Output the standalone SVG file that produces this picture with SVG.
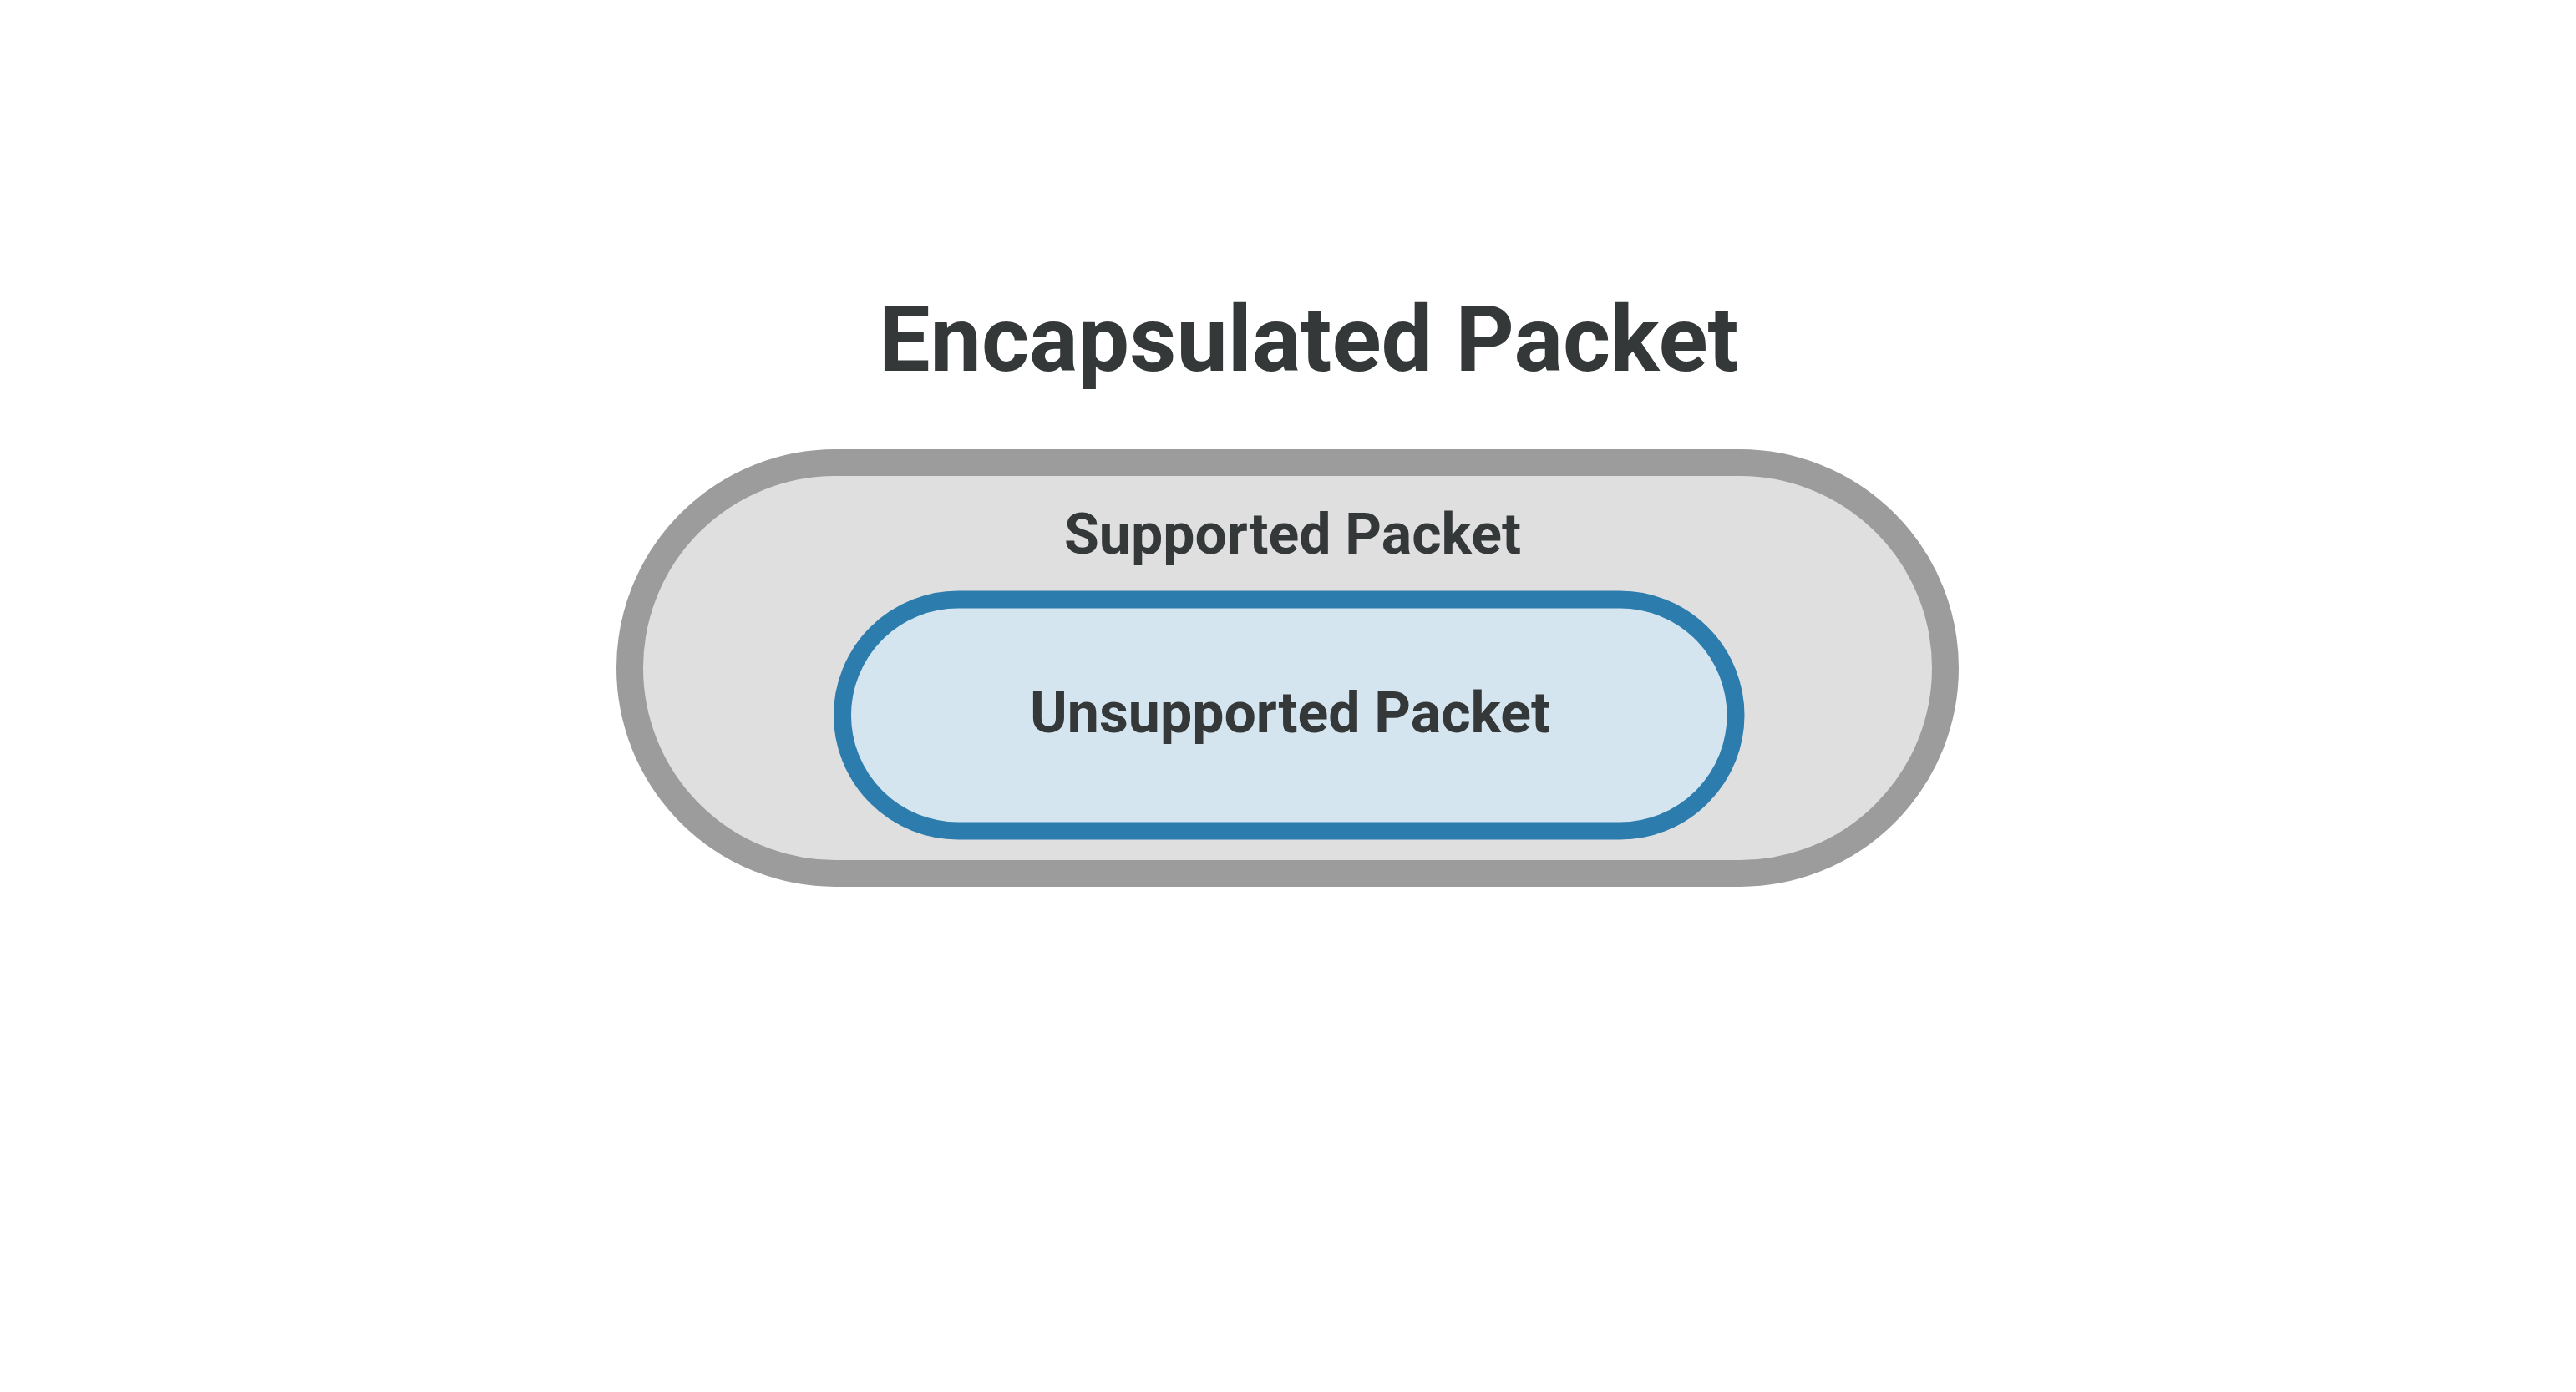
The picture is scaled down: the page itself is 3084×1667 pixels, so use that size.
<svg xmlns="http://www.w3.org/2000/svg" width="3084" height="1667" viewBox="0 0 3084 1667">
<style>
.lbl{font-family:Roboto,"Liberation Sans",sans-serif;font-weight:700;fill:#343839}
.outer{fill:#dfdfdf;stroke:#9b9c9b;stroke-width:32}
.inner{fill:#d4e5f0;stroke:#2d7cae;stroke-width:21}
</style>
<rect width="3084" height="1667" fill="#ffffff"/>
<g id="title">
<text class="lbl" x="1052" y="444" font-size="109.5">Encapsulated Packet</text>
</g>
<g id="supported">
<rect class="outer" x="754" y="554" width="1575" height="492" rx="246" ry="246"/>
<text class="lbl" x="1274" y="663" font-size="68">Supported Packet</text>
</g>
<g id="unsupported">
<rect class="inner" x="1008.5" y="718" width="1069.5" height="277" rx="138.5" ry="138.5"/>
<text class="lbl" x="1233" y="877" font-size="68">Unsupported Packet</text>
</g>
<g id="connectors"></g>
</svg>
